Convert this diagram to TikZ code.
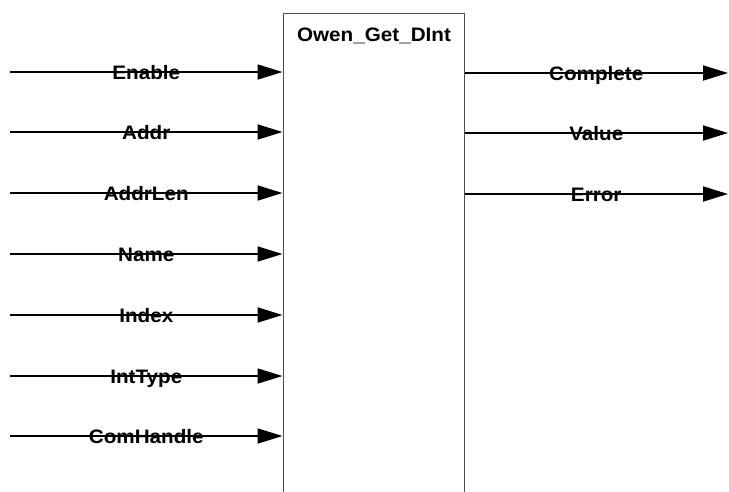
\documentclass[tikz,border=0pt]{standalone}
\usepackage{fontspec}
\setmainfont{Liberation Sans}[FakeStretch=1.06]
\usetikzlibrary{arrows.meta,calc}
\begin{document}
\begin{tikzpicture}[x=1pt,y=-1pt,
  conn/.style={line width=1.8pt,-{Triangle[length=25pt,width=15pt]}},
  lbl/.style={font=\fontsize{19.5}{22}\selectfont\bfseries,inner sep=0pt,text=black,anchor=base},
  blkstyle/.style={draw=black!70,line width=1pt,minimum width=181pt,minimum height=520pt,inner sep=0pt}]
\useasboundingbox (0,0) rectangle (729,491);
\node[blkstyle,anchor=north] (blk) at (373.5,13) {};
\node[lbl] (title) at (374,41) {Owen\_Get\_DInt};
% inputs
\foreach \n/\y/\t in {1/72/Enable,2/132/Addr,3/193/AddrLen,4/254/Name,5/315/Index,6/376/IntType,7/436/ComHandle}{
  \coordinate (in\n) at (10,\y);
  \draw[conn] (in\n) -- (blk.west |- in\n);
  \node[lbl] (il\n) at ([yshift=-7pt]$(in\n)!0.5!(blk.west |- in\n)$) {\t};
}
% outputs
\foreach \n/\y/\t in {1/73/Complete,2/133/Value,3/194/Error}{
  \coordinate (out\n) at (728,\y);
  \draw[conn] (blk.east |- out\n) -- (out\n);
  \node[lbl] (ol\n) at ([yshift=-7pt]$(blk.east |- out\n)!0.5!(out\n)$) {\t};
}
\end{tikzpicture}
\end{document}
